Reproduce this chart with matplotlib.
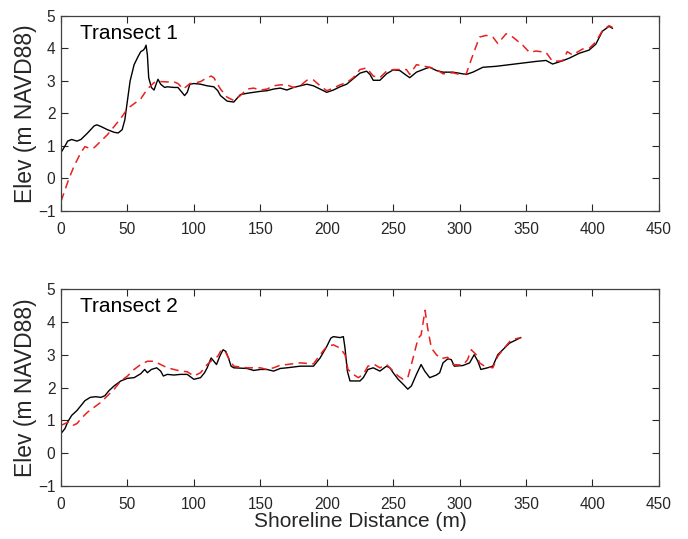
import numpy as np
import matplotlib
matplotlib.use('Agg')
import matplotlib.pyplot as plt

plt.rcParams['font.family'] = ['Liberation Sans', 'DejaVu Sans']

#Transect 1 - solid black
t1_x_a = [0, 3, 5, 8, 12, 15, 20, 25, 27, 30, 35, 40, 43, 46, 48, 50, 52, 55, 58, 60,
          62, 63, 64, 65, 66, 68, 70, 72, 73, 75, 78, 80, 85, 88, 90, 93, 95, 97, 100, 105,
          110, 115, 118, 120, 125, 130, 135, 140, 145, 150, 155, 160, 165, 170, 175, 180, 185, 190, 195, 200,
          205, 210, 215, 220, 225, 230, 232.5, 235, 240, 245, 250, 255, 260, 262.5, 267.5, 275, 277.5, 282.5, 287.5, 295,
          305, 310, 317.5, 327.5, 337.5, 347.5, 357.5, 365, 370, 377.5, 382.5, 390, 397.5, 402.5, 407.5, 412.5, 415]
t1_y_a = [0.8, 1.0, 1.15, 1.2, 1.15, 1.2, 1.4, 1.62, 1.65, 1.6, 1.5, 1.42, 1.4, 1.5, 1.8, 2.4, 3.0, 3.5, 3.75, 3.9,
          3.95, 4.0, 4.1, 3.8, 3.1, 2.8, 2.72, 2.95, 3.05, 2.9, 2.8, 2.82, 2.8, 2.8, 2.7, 2.55, 2.65, 2.9, 2.92, 2.9,
          2.85, 2.82, 2.7, 2.55, 2.38, 2.35, 2.58, 2.62, 2.65, 2.68, 2.7, 2.75, 2.78, 2.72, 2.8, 2.85, 2.9, 2.85, 2.75, 2.65,
          2.72, 2.82, 2.9, 3.07, 3.24, 3.3, 3.2, 3.02, 3.02, 3.22, 3.34, 3.32, 3.17, 3.1, 3.27, 3.39, 3.42, 3.32, 3.27, 3.27,
          3.2, 3.27, 3.42, 3.45, 3.5, 3.55, 3.6, 3.63, 3.52, 3.62, 3.7, 3.85, 3.95, 4.13, 4.53, 4.68, 4.62]

#Transect 1 - dashed red
t1_x_b = [0, 3, 6, 10, 15, 18, 20, 23, 25, 30, 35, 40, 45, 50, 55, 60, 65, 70, 75, 80,
          85, 88, 92, 95, 97, 100, 105, 110, 113, 115, 120, 125, 130, 135, 140, 145, 150, 155, 160, 165,
          170, 175, 180, 185, 190, 195, 200, 205, 210, 215, 220, 225, 230, 235, 240, 245, 250, 260, 262.5, 267.5,
          277.5, 282.5, 287.5, 295, 300, 305, 310, 315, 320, 325, 328.75, 335, 340, 347.5, 352.5, 357.5, 365, 370, 377.5, 381,
          385, 392.5, 397.5, 402.5, 407.5, 412.5, 415]
t1_y_b = [-0.7, -0.35, 0.0, 0.4, 0.8, 0.98, 0.95, 0.92, 0.95, 1.15, 1.35, 1.6, 1.85, 2.15, 2.3, 2.45, 2.75, 2.95, 2.98, 2.97,
          2.97, 2.92, 2.75, 2.85, 2.92, 2.93, 2.98, 3.1, 3.15, 3.1, 2.75, 2.5, 2.4, 2.55, 2.75, 2.78, 2.72, 2.75, 2.85, 2.88,
          2.88, 2.8, 2.85, 3.02, 3.03, 2.85, 2.7, 2.78, 2.88, 2.95, 3.1, 3.35, 3.4, 3.15, 3.1, 3.3, 3.35, 3.35, 3.2, 3.5,
          3.42, 3.35, 3.22, 3.25, 3.2, 3.22, 3.8, 4.35, 4.4, 4.35, 4.15, 4.45, 4.35, 4.1, 3.88, 3.92, 3.88, 3.6, 3.62, 3.9,
          3.8, 3.98, 4.0, 4.2, 4.55, 4.7, 4.65]

#Transect 2 - solid black
t2_x_a = [0, 3, 5, 8, 12, 15, 18, 22, 26, 30, 33, 36, 40, 45, 50, 55, 60, 63, 65, 68,
          72, 75, 77, 80, 85, 90, 95, 100, 105, 108, 110, 113, 115, 117, 120, 122, 124, 126, 128, 130,
          140, 145, 150, 155, 160, 165, 170, 180, 190, 195, 200, 203, 205, 210, 212.5, 213.75, 215.5, 217.5, 225, 227.5,
          231, 235, 240, 245, 247.5, 250, 253.75, 257.5, 261, 263.75, 267.5, 271, 273.75, 277.5, 282.5, 285, 287.5, 291, 293.75, 296,
          302.5, 307.5, 311, 313.75, 316, 321, 325, 328.75, 332.5, 337.5, 342.5, 346]
t2_y_a = [0.6, 0.75, 0.95, 1.15, 1.3, 1.45, 1.6, 1.7, 1.72, 1.7, 1.75, 1.9, 2.05, 2.2, 2.28, 2.3, 2.42, 2.55, 2.45, 2.55,
          2.6, 2.5, 2.35, 2.4, 2.38, 2.4, 2.4, 2.25, 2.3, 2.45, 2.6, 2.9, 2.8, 2.7, 3.0, 3.15, 3.1, 2.9, 2.65, 2.6,
          2.58, 2.52, 2.55, 2.55, 2.5, 2.58, 2.6, 2.65, 2.65, 2.9, 3.25, 3.5, 3.55, 3.52, 3.55, 3.2, 2.5, 2.2, 2.2, 2.3,
          2.55, 2.6, 2.5, 2.65, 2.6, 2.45, 2.25, 2.1, 1.95, 2.05, 2.4, 2.7, 2.5, 2.3, 2.38, 2.45, 2.75, 2.87, 2.85, 2.65,
          2.67, 2.75, 3.0, 2.8, 2.55, 2.6, 2.65, 3.0, 3.15, 3.35, 3.45, 3.52]

#Transect 2 - dashed red
t2_x_b = [0, 3, 6, 9, 12, 15, 20, 25, 30, 35, 40, 45, 50, 55, 60, 65, 70, 75, 80, 85,
          90, 95, 100, 105, 110, 115, 118, 120, 123, 126, 130, 140, 150, 155, 160, 165, 170, 180, 190, 195,
          200, 205, 210, 213.75, 216, 220, 223.75, 227.5, 231, 236, 240, 245, 250, 253.75, 257.5, 261, 265, 268.75, 271, 274,
          276, 278.75, 282.5, 286, 291, 295, 302.5, 306, 308.75, 312.5, 315, 318.75, 325, 328.75, 332.5, 338.75, 346]
t2_y_b = [0.85, 0.9, 0.95, 0.85, 0.9, 1.05, 1.25, 1.4, 1.55, 1.75, 1.95, 2.2, 2.35, 2.55, 2.7, 2.8, 2.8, 2.7, 2.6, 2.55,
          2.5, 2.48, 2.35, 2.45, 2.7, 2.88, 2.95, 3.1, 3.15, 2.9, 2.65, 2.6, 2.6, 2.55, 2.6, 2.68, 2.7, 2.75, 2.72, 3.0,
          3.25, 3.3, 3.2, 3.0, 2.55, 2.4, 2.3, 2.4, 2.65, 2.7, 2.6, 2.7, 2.5, 2.35, 2.25, 2.3, 2.9, 3.5, 3.6, 4.35,
          3.8, 3.2, 3.0, 2.88, 2.92, 2.7, 2.68, 2.85, 3.15, 3.0, 2.75, 2.65, 2.6, 2.95, 3.15, 3.45, 3.52]

titles = ['Transect 1', 'Transect 2']
xticks = [0, 50, 100, 150, 200, 250, 300, 350, 400, 450]
yticks = [-1, 0, 1, 2, 3, 4, 5]

fig = plt.figure(figsize=(6.88, 5.39), dpi=100)
ax1 = fig.add_axes([0.0887, 0.6085, 0.869, 0.362])
ax2 = fig.add_axes([0.0887, 0.0983, 0.869, 0.3655])

data = [(t1_x_a, t1_y_a, t1_x_b, t1_y_b), (t2_x_a, t2_y_a, t2_x_b, t2_y_b)]
for ax, (xa, ya, xb, yb), title in zip([ax1, ax2], data, titles):
    ax.plot(xa, ya, color='black', lw=1.0)
    ax.plot(xb, yb, color='#e8201e', lw=1.1, dashes=(5.5, 3.5))
    ax.set_xlim(0, 450)
    ax.set_ylim(-1, 5)
    ax.set_xticks(xticks)
    ax.set_yticks(yticks)
    ax.tick_params(direction='in', top=True, right=True, length=5, width=0.8,
                   labelsize=11.2, colors='#262626')
    ax.tick_params(axis='x', pad=8)
    ax.tick_params(axis='y', pad=4)
    for s in ax.spines.values():
        s.set_color('#404040')
        s.set_linewidth(0.9)
    ax.set_ylabel('Elev (m NAVD88)', fontsize=16.5, color='#262626', labelpad=0.5)
    ax.text(0.032, 0.91, title, transform=ax.transAxes, fontsize=15,
            va='center', ha='left', color='black')

ax2.set_xlabel('Shoreline Distance (m)', fontsize=15, color='#262626', labelpad=0)

plt.savefig('out.png', dpi=100)
